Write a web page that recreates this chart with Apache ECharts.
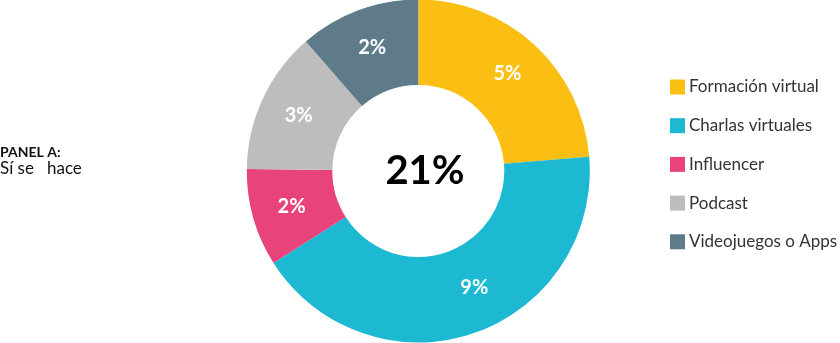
<!DOCTYPE html>
<html>
<head>
<meta charset="utf-8">
<script src="https://cdn.jsdelivr.net/npm/echarts@6/dist/echarts.min.js"></script>
<style>
html,body{margin:0;padding:0;background:#fff;}
#chart{width:840px;height:343px;}
</style>
</head>
<body>
<div id="chart"></div>
<script>
const categories = ['Formación virtual', 'Charlas virtuales', 'Influencer', 'Podcast', 'Videojuegos o Apps'];
const values = [4.97, 8.89, 1.93, 2.82, 2.39];
const colors = ['#FBBF14', '#1DB8D2', '#E8437A', '#BDBDBD', '#5F7B8A'];
const totalLabel = '21%';
const panelTitle = 'PANEL A:';
const panelSubtitle = 'Sí se   hace';

const FONT = 'Lato';
const labelOffsets = {1: [14, -8]};
const chart = echarts.init(document.getElementById('chart'), null, {renderer: 'canvas'});
chart.setOption({
  animation: false,
  color: colors,
  textStyle: {fontFamily: FONT},
  legend: {
    orient: 'vertical',
    left: 670,
    top: 78.5,
    padding: 0,
    itemWidth: 15,
    itemHeight: 15,
    itemGap: 21.7,
    icon: 'rect',
    selectedMode: false,
    textStyle: {fontFamily: FONT, fontSize: 17, color: '#333333', padding: [0, 0, 0, -1]},
    data: categories
  },
  graphic: [
    {type: 'text', left: 0, top: 145, style: {text: panelTitle, font: 'bold 14px Lato', fill: '#111'}},
    {type: 'text', left: 0, top: 160, style: {text: panelSubtitle, font: '17px Lato', fill: '#111'}},
    {type: 'text', x: 425, y: 171, style: {text: totalLabel, font: 'bold 40px Lato', fill: '#000', align: 'center', verticalAlign: 'middle'}}
  ],
  series: [{
    type: 'pie',
    center: [418.3, 171],
    radius: [86, 171.5],
    startAngle: 90,
    clockwise: true,
    avoidLabelOverlap: false,
    emphasis: {disabled: true},
    itemStyle: {borderWidth: 0},
    label: {
      show: true,
      position: 'inside',
      color: '#fff',
      fontFamily: FONT,
      fontWeight: 'bold',
      fontSize: 20,
      formatter: p => Math.round(p.value) + '%'
    },
    labelLine: {show: false},
    data: categories.map((c, i) => {
      const d = {name: c, value: values[i]};
      if (labelOffsets[i]) d.label = {offset: labelOffsets[i]};
      return d;
    })
  }]
});
</script>
</body>
</html>
